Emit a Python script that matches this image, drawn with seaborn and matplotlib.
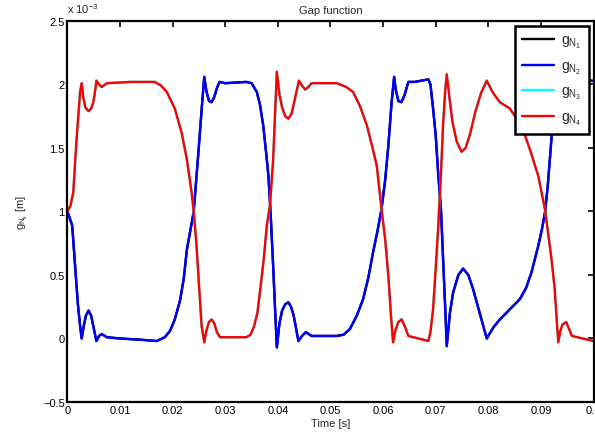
import numpy as np
import pandas as pd
import matplotlib
matplotlib.use('Agg')
import matplotlib.pyplot as plt
import seaborn as sns

# Gap values in units of 1e-3 m
t_n2 = [0.0, 0.0009, 0.0014, 0.002, 0.0024, 0.0027, 0.0031, 0.0035, 0.004, 0.0045,
        0.005, 0.0055, 0.006, 0.0065, 0.0075, 0.010, 0.014, 0.017, 0.0185, 0.0195,
        0.0204, 0.0214, 0.0221, 0.0227, 0.0234, 0.0240, 0.0249, 0.0255, 0.0260, 0.0264,
        0.0269, 0.0274, 0.0279, 0.0284, 0.0289, 0.030, 0.034, 0.035, 0.036, 0.0366,
        0.0372, 0.0378, 0.0382, 0.0386, 0.0391, 0.0395, 0.0398, 0.0403, 0.0408, 0.0414,
        0.0420, 0.0425, 0.0430, 0.0435, 0.0439, 0.0446, 0.0453, 0.0464, 0.050, 0.0512,
        0.0525, 0.0537, 0.055, 0.0562, 0.0572, 0.0581, 0.0590, 0.0597, 0.0604, 0.0610,
        0.0616, 0.0621, 0.0624, 0.0629, 0.0635, 0.0641, 0.0648, 0.066, 0.0686, 0.069,
        0.0695, 0.0700, 0.0705, 0.0710, 0.0714, 0.0718, 0.0721, 0.0727, 0.0733, 0.0743,
        0.0752, 0.0762, 0.0771, 0.0785, 0.0797, 0.0810, 0.0822, 0.0841, 0.086, 0.0872,
        0.0882, 0.0895, 0.0902, 0.0908, 0.0913, 0.0917, 0.0922, 0.0927, 0.0933, 0.0937,
        0.0942, 0.0947, 0.0952, 0.0957, 0.096, 0.1]
g_n2 = [1.0, 0.89, 0.6, 0.26, 0.1, 0.0, 0.1, 0.18, 0.22, 0.18,
        0.08, -0.02, 0.02, 0.035, 0.01, 0.0, -0.01, -0.02, 0.01, 0.06,
        0.15, 0.3, 0.47, 0.7, 0.86, 1.0, 1.47, 1.8, 2.06, 1.95,
        1.87, 1.86, 1.9, 1.97, 2.02, 2.01, 2.02, 2.01, 1.94, 1.84,
        1.68, 1.45, 1.28, 1.0, 0.57, 0.2, -0.07, 0.12, 0.22, 0.27,
        0.285, 0.25, 0.18, 0.07, -0.02, 0.02, 0.05, 0.02, 0.02, 0.02,
        0.03, 0.075, 0.18, 0.31, 0.48, 0.68, 0.86, 1.02, 1.25, 1.52,
        1.85, 2.06, 1.96, 1.87, 1.86, 1.92, 2.02, 2.02, 2.04, 2.0,
        1.81, 1.6, 1.28, 1.02, 0.63, 0.25, -0.06, 0.2, 0.36, 0.5,
        0.55, 0.5, 0.39, 0.18, 0.0, 0.09, 0.15, 0.23, 0.31, 0.4,
        0.52, 0.73, 0.86, 1.0, 1.2, 1.41, 1.68, 1.94, 2.06, 1.95,
        1.87, 1.86, 1.92, 2.0, 2.02, 2.03]

t_n4 = [0.0, 0.0006, 0.0011, 0.0017, 0.0024, 0.0027, 0.003, 0.0034, 0.0040, 0.0045,
        0.0049, 0.0052, 0.0055, 0.0060, 0.0065, 0.0075, 0.012, 0.0166, 0.0178, 0.0189,
        0.0204, 0.0217, 0.0227, 0.0236, 0.0240, 0.0245, 0.0249, 0.0255, 0.0260, 0.0264,
        0.0269, 0.0274, 0.0279, 0.0284, 0.0290, 0.034, 0.0348, 0.0355, 0.0361, 0.0366,
        0.0373, 0.0379, 0.0385, 0.0391, 0.0398, 0.0403, 0.0408, 0.0414, 0.0420, 0.0426,
        0.0432, 0.0440, 0.0446, 0.0452, 0.0458, 0.0464, 0.0512, 0.0530, 0.0543, 0.0556,
        0.0569, 0.0580, 0.0588, 0.0597, 0.0604, 0.0610, 0.0615, 0.0619, 0.0623, 0.0629,
        0.0635, 0.0641, 0.0648, 0.0686, 0.0690, 0.0695, 0.0700, 0.0705, 0.0710, 0.0714,
        0.0718, 0.0721, 0.0726, 0.0732, 0.0740, 0.0749, 0.0757, 0.0766, 0.0775, 0.0786,
        0.0797, 0.0808, 0.0822, 0.0841, 0.0854, 0.0868, 0.0879, 0.0895, 0.0908, 0.0920,
        0.0926, 0.0930, 0.0933, 0.0937, 0.0941, 0.0948, 0.0954, 0.0959, 0.1]
g_n4 = [1.0, 1.05, 1.15, 1.55, 1.94, 2.01, 1.9, 1.82, 1.79, 1.81,
        1.86, 1.93, 2.03, 2.0, 1.98, 2.01, 2.02, 2.02, 1.99, 1.94,
        1.81, 1.62, 1.41, 1.15, 1.0, 0.75, 0.49, 0.10, -0.03, 0.06,
        0.13, 0.15, 0.12, 0.05, 0.01, 0.01, 0.03, 0.1, 0.2, 0.37,
        0.62, 0.89, 1.05, 1.41, 2.1, 1.92, 1.82, 1.75, 1.73, 1.77,
        1.88, 2.03, 1.99, 1.96, 1.98, 2.01, 2.01, 1.98, 1.94, 1.83,
        1.68, 1.5, 1.36, 1.02, 0.78, 0.49, 0.18, -0.03, 0.06, 0.13,
        0.15, 0.1, 0.02, -0.02, 0.05, 0.23, 0.55, 0.89, 1.3, 1.68,
        1.95, 2.08, 1.9, 1.7, 1.55, 1.47, 1.5, 1.62, 1.78, 1.93,
        2.03, 1.94, 1.86, 1.81, 1.73, 1.62, 1.49, 1.28, 1.01, 0.63,
        0.4, 0.15, -0.03, 0.06, 0.11, 0.13, 0.07, 0.02, -0.02]

# g_N1 and g_N3 coincide with g_N2 and g_N4 (hidden underneath)
t_n1, g_n1 = list(t_n2), list(g_n2)
t_n3, g_n3 = list(t_n4), list(g_n4)

series_labels = [r'$\mathregular{g_{N_1}}$', r'$\mathregular{g_{N_2}}$',
                 r'$\mathregular{g_{N_3}}$', r'$\mathregular{g_{N_4}}$']
series_colors = ['black', '#0000ff', '#00ffff', '#ff0000']
x_ticks = [0, 0.01, 0.02, 0.03, 0.04, 0.05, 0.06, 0.07, 0.08, 0.09, 0.1]
y_ticks = [-0.5, 0, 0.5, 1, 1.5, 2, 2.5]

sns.set_style('white')
plt.rcParams['font.family'] = ['Liberation Sans', 'DejaVu Sans']
plt.rcParams['mathtext.fontset'] = 'custom'
plt.rcParams['mathtext.rm'] = 'Liberation Sans'
plt.rcParams['mathtext.it'] = 'Liberation Sans'

fig = plt.figure(figsize=(5.95, 4.39), dpi=100)
ax = fig.add_axes([0.1134, 0.082, 0.8841, 0.868])

all_t = [t_n1, t_n2, t_n3, t_n4]
all_g = [g_n1, g_n2, g_n3, g_n4]
for t, g, lab, col in zip(all_t, all_g, series_labels, series_colors):
    df = pd.DataFrame({'t': t, 'g': g})
    sns.lineplot(data=df, x='t', y='g', ax=ax, color=col, linewidth=1.7,
                 label=lab, sort=False, estimator=None)

ax.set_xlim(0, 0.1)
ax.set_ylim(-0.5, 2.5)
ax.set_xticks(x_ticks)
ax.set_xticklabels(['%g' % v for v in x_ticks])
ax.set_yticks(y_ticks)
ax.set_yticklabels([('%g' % v).replace('-', '\u2212') for v in y_ticks])
ax.tick_params(direction='in', length=4, width=1.2, labelsize=8, colors='black',
               top=True, right=True, pad=2)
for sp in ax.spines.values():
    sp.set_linewidth(1.6)
    sp.set_color('black')

ax.set_title('Gap function', fontsize=8, pad=6)
ax.set_xlabel('Time [s]', fontsize=8, labelpad=2)
ax.set_ylabel(r'$\mathregular{g_{N_k}}$ [m]', fontsize=8, labelpad=9)
ax.text(0.0, 1.015, r'x 10$^{\mathregular{-3}}$', transform=ax.transAxes,
        fontsize=8, ha='left', va='bottom')

leg = ax.legend(loc='upper right', fontsize=10, frameon=True, fancybox=False,
                handlelength=2.3, labelspacing=0.62, borderaxespad=0.35,
                handletextpad=0.5, borderpad=0.5)
leg.get_frame().set_edgecolor('black')
leg.get_frame().set_linewidth(1.8)
leg.get_frame().set_alpha(1)

fig.savefig('out.png', dpi=100)
